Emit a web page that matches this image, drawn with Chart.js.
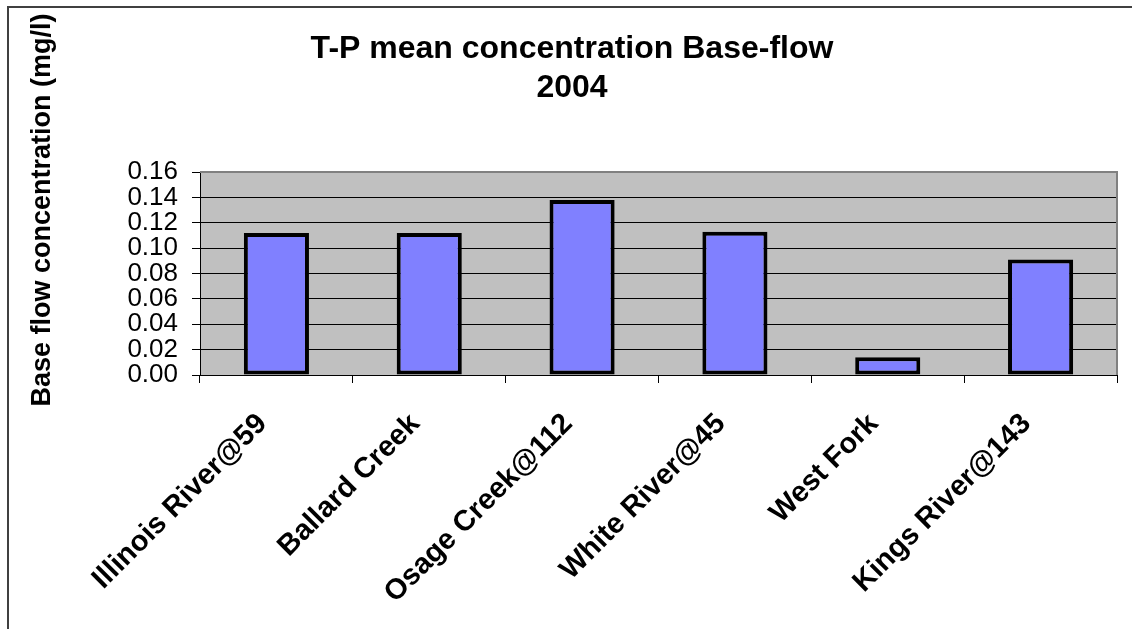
<!DOCTYPE html>
<html>
<head>
<meta charset="utf-8">
<script src="https://cdn.jsdelivr.net/npm/chart.js@4.4.1/dist/chart.umd.min.js"></script>
<style>
  html, body { margin: 0; padding: 0; background: #fff; }
  #wrap { width: 1132px; height: 629px; }
</style>
</head>
<body>
<div id="wrap"><canvas id="c" width="1132" height="629"></canvas></div>
<script>
// ---- data ----
const categories = ["Illinois River@59", "Ballard Creek", "Osage Creek@112", "White River@45", "West Fork", "Kings River@143"];
const values = [0.112, 0.112, 0.138, 0.113, 0.014, 0.091];
const titleLines = ["T-P mean concentration Base-flow", "2004"];
const yAxisTitle = "Base flow concentration (mg/l)";
const yMin = 0.00;
const yMax = 0.16;
const yStep = 0.02;

const FONT = '"Liberation Sans", Arial, Helvetica, sans-serif';

const decorPlugin = {
  id: 'decor',
  beforeDraw(chart) {
    const ctx = chart.ctx;
    const a = chart.chartArea;
    ctx.save();
    ctx.fillStyle = '#ffffff';
    ctx.fillRect(0, 0, chart.width, chart.height);
    // outer chart border (left + top visible)
    ctx.strokeStyle = '#404040';
    ctx.lineWidth = 2;
    ctx.beginPath();
    ctx.moveTo(8, chart.height);
    ctx.lineTo(8, 7);
    ctx.lineTo(chart.width, 7);
    ctx.stroke();
    // plot background
    ctx.fillStyle = '#C0C0C0';
    ctx.fillRect(a.left, a.top, a.right - a.left, a.bottom - a.top);
    ctx.restore();
  },
  beforeDatasetsDraw(chart) {
    const ctx = chart.ctx;
    const a = chart.chartArea;
    ctx.save();
    ctx.strokeStyle = '#808080';
    ctx.lineWidth = 2;
    ctx.beginPath();
    ctx.moveTo(a.left, a.top);
    ctx.lineTo(a.right, a.top);
    ctx.lineTo(a.right, a.bottom);
    ctx.stroke();
    ctx.restore();
  },
  afterDraw(chart) {
    const ctx = chart.ctx;
    ctx.save();
    ctx.fillStyle = '#000';
    ctx.textAlign = 'center';
    ctx.textBaseline = 'alphabetic';
    ctx.font = 'bold 32px ' + FONT;
    ctx.fillText(titleLines[0], 572, 58);
    ctx.fillText(titleLines[1], 572, 97);
    // y axis title
    ctx.translate(43, 210);
    ctx.rotate(-Math.PI / 2);
    ctx.font = 'bold 27px ' + FONT;
    ctx.textBaseline = 'middle';
    ctx.fillText(yAxisTitle, 0, 0);
    ctx.restore();
  }
};

new Chart(document.getElementById('c'), {
  type: 'bar',
  data: {
    labels: categories,
    datasets: [{
      data: values,
      backgroundColor: '#8080FF',
      borderColor: '#000000',
      borderWidth: 4,
      borderSkipped: false,
      barPercentage: 0.426,
      categoryPercentage: 1.0
    }]
  },
  options: {
    responsive: false,
    animation: false,
    devicePixelRatio: 1,
    layout: { padding: { top: 172, right: 15, bottom: 0, left: 0 } },
    plugins: {
      legend: { display: false },
      title: { display: false },
      tooltip: { enabled: false }
    },
    scales: {
      x: {
        offset: true,
        afterFit(scale) { scale.height = 254; },
        grid: { display: true, drawOnChartArea: false, drawTicks: true, tickLength: 8, color: '#000', offset: true },
        border: { display: true, color: '#000', width: 1 },
        ticks: {
          autoSkip: false,
          minRotation: 45,
          maxRotation: 45,
          padding: 24,
          labelOffset: -14,
          color: '#000',
          font: { family: FONT, size: 29, weight: 'bold' }
        }
      },
      y: {
        min: yMin,
        max: yMax,
        afterFit(scale) { scale.width = 200; },
        grid: { color: '#000', lineWidth: 1, drawTicks: true, tickLength: 8 },
        border: { display: true, color: '#000', width: 1 },
        ticks: {
          stepSize: yStep,
          autoSkip: false,
          padding: 14,
          color: '#000',
          font: { family: FONT, size: 26 },
          callback: (v) => Number(v).toFixed(2)
        }
      }
    }
  },
  plugins: [decorPlugin]
});
</script>
</body>
</html>
